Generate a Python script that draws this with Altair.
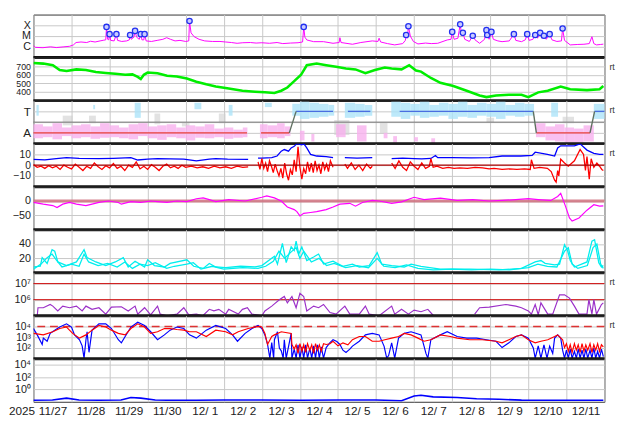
import altair as alt
import pandas as pd

START = pd.Timestamp("2025-11-27")
W, H = 584, 44
FONT = "Liberation Sans"
GRID = "#c8c8c8"

# ---------------- data (day offset from 2025-11-27 00:00, value) ----------------
# Panel 1: GOES X-ray flux, log10(W/m2)
xray = [(0.00,-5.88),(0.05,-6.05),(0.25,-6.08),(0.45,-6.00),(0.60,-6.07),(0.80,-6.00),(0.95,-5.95),(1.05,-5.82),
        (1.12,-5.60),(1.25,-5.55),(1.40,-5.60),(1.50,-5.48),(1.62,-5.55),(1.75,-5.45),(1.85,-5.38),(1.90,-5.35),
        (1.92,-4.15),(1.95,-5.30),(1.98,-5.35),(2.00,-4.82),(2.03,-5.40),(2.12,-5.45),(2.18,-4.82),(2.21,-5.40),
        (2.32,-5.50),(2.45,-5.45),(2.52,-5.35),(2.54,-4.90),(2.57,-5.30),(2.64,-5.10),(2.67,-4.52),(2.71,-5.10),
        (2.78,-5.30),(2.82,-4.82),(2.85,-5.35),(2.90,-5.35),(2.92,-4.82),(2.96,-5.45),(3.10,-5.50),(3.25,-5.40),
        (3.40,-5.30),(3.50,-5.15),(3.60,-5.30),(3.72,-5.45),(3.85,-5.40),(4.00,-5.50),(4.08,-5.45),(4.10,-3.60),
        (4.14,-4.70),(4.22,-5.05),(4.35,-5.30),(4.50,-5.45),(4.70,-5.50),(4.90,-5.50),(5.05,-5.55),(5.20,-5.60),
        (5.35,-5.67),(5.50,-5.62),(5.70,-5.60),(5.85,-5.65),(6.00,-5.62),(6.20,-5.67),(6.40,-5.60),(6.55,-5.70),
        (6.75,-5.65),(6.95,-5.62),(7.07,-5.55),(7.10,-4.15),(7.13,-5.10),(7.18,-5.36),(7.36,-5.52),(7.62,-5.52),
        (7.87,-5.67),(8.03,-5.60),(8.05,-5.15),(8.08,-5.60),(8.38,-5.76),(8.60,-5.60),(8.90,-5.45),(9.05,-5.50),
        (9.08,-5.20),(9.12,-5.55),(9.30,-5.70),(9.49,-5.82),(9.70,-5.70),(9.77,-5.40),(9.79,-4.90),(9.82,-5.20),
        (9.85,-4.09),(9.90,-5.00),(9.98,-5.50),(10.10,-5.73),(10.30,-5.65),(10.45,-5.70),(10.62,-5.67),(10.87,-5.36),
        (10.97,-5.30),(11.00,-4.61),(11.05,-5.30),(11.15,-5.20),(11.21,-3.91),(11.25,-5.00),(11.28,-4.70),(11.33,-5.30),
        (11.45,-5.50),(11.54,-4.97),(11.60,-5.35),(11.72,-5.67),(11.85,-5.30),(11.90,-4.45),(11.92,-4.90),(11.97,-5.30),
        (12.03,-4.61),(12.08,-5.30),(12.20,-5.45),(12.31,-5.52),(12.50,-5.45),(12.62,-4.82),(12.67,-5.40),(12.82,-5.52),
        (12.92,-5.35),(12.97,-4.82),(13.02,-5.40),(13.12,-5.30),(13.18,-4.90),(13.24,-5.20),(13.31,-4.70),(13.36,-5.20),
        (13.41,-4.97),(13.47,-5.30),(13.56,-4.82),(13.62,-5.35),(13.75,-5.50),(13.87,-5.45),(13.90,-4.30),(13.95,-5.40),
        (14.10,-5.82),(14.30,-5.78),(14.46,-5.76),(14.60,-5.70),(14.67,-5.06),(14.72,-5.70),(14.79,-5.82),(14.90,-5.78),
        (14.97,-5.75)]
flares = [(1.92,-4.15),(2.00,-4.82),(2.18,-4.82),(2.54,-4.90),(2.67,-4.52),(2.82,-4.82),(2.92,-4.82),(4.10,-3.60),
          (7.10,-4.15),(9.79,-4.90),(9.85,-4.09),(11.00,-4.61),(11.21,-3.91),(11.28,-4.70),(11.54,-4.97),(11.90,-4.45),
          (11.92,-4.90),(12.03,-4.61),(12.62,-4.82),(12.97,-4.82),(13.18,-4.90),(13.31,-4.70),(13.41,-4.97),(13.56,-4.82),
          (13.90,-4.30)]

# Panel 2: solar wind speed (km/s)
speed = [(0.00,737),(0.26,730),(0.51,711),(0.69,656),(0.87,644),(1.13,663),(1.38,656),(1.64,633),(1.90,622),
         (2.15,611),(2.41,600),(2.60,605),(2.74,575),(2.82,550),(2.90,600),(3.00,626),(3.26,619),(3.51,589),
         (3.77,581),(4.03,556),(4.28,520),(4.54,489),(4.79,465),(5.13,441),(5.49,415),(5.82,404),(6.08,396),
         (6.33,389),(6.51,415),(6.67,452),(6.85,526),(7.03,600),(7.18,711),(7.44,730),(7.69,711),(7.95,693),
         (8.21,674),(8.46,663),(8.72,619),(8.97,656),(9.23,685),(9.41,674),(9.67,663),(9.87,711),(10.05,650),
         (10.18,637),(10.44,563),(10.69,507),(11.03,470),(11.38,415),(11.72,359),(11.90,341),(12.15,359),
         (12.49,367),(12.82,367),(13.00,341),(13.26,396),(13.51,415),(13.85,463),(14.10,433),(14.54,422),
         (14.87,433),(14.97,470)]

# Panel 3: sector polarity (A = 1, T = 3): observed scatter extents (d0, d1, lo, hi)
scatter_away = [(0.00,0.25,0.50,1.80),(0.25,0.50,0.60,1.60),(0.50,0.75,0.40,1.90),(0.75,1.00,0.70,1.50),
                (1.00,1.25,0.50,1.70),(1.25,1.50,0.60,1.80),(1.50,1.75,0.45,1.60),(1.75,2.00,0.55,1.90),
                (2.00,2.25,0.60,1.70),(2.25,2.50,0.50,1.50),(2.50,2.75,0.40,1.80),(2.75,3.00,0.70,1.90),
                (3.00,3.25,0.50,1.60),(3.25,3.50,0.35,1.70),(3.50,3.75,0.60,1.80),(3.75,4.00,0.50,1.50),
                (4.00,4.25,0.30,1.70),(4.25,4.50,0.55,1.60),(4.50,4.75,0.50,1.80),(4.75,5.00,0.60,1.40),
                (5.00,5.25,0.45,1.50),(5.25,5.50,0.55,1.30),(5.50,5.62,0.60,1.50),(5.95,6.15,0.50,1.80),
                (6.15,6.40,0.60,1.70),(6.40,6.60,0.50,1.90),(6.60,6.75,0.70,1.60),(7.00,7.12,0.30,1.20),
                (7.30,7.38,0.20,0.90),(7.95,8.20,0.60,1.80),(8.50,8.75,0.20,1.70),(9.20,9.30,0.50,1.00),
                (9.45,9.55,0.10,0.70),(10.00,10.10,0.20,0.60),(10.45,10.55,0.00,0.50),
                (13.20,13.45,0.60,1.90),(13.45,13.70,0.30,1.60),(13.70,13.95,0.20,1.80),(13.95,14.20,0.10,1.50),
                (14.20,14.45,0.10,1.40),(14.45,14.72,0.20,1.70)]
scatter_toward = [(0.08,0.14,2.60,3.60),(1.57,1.62,3.20,3.60),(2.66,2.82,2.40,3.80),(4.23,4.41,3.20,3.80),
                  (5.13,5.23,2.60,3.60),(6.08,6.26,3.40,3.80),(6.80,7.00,2.60,3.70),(7.00,7.25,2.30,3.90),
                  (7.25,7.50,2.40,3.80),(7.50,7.75,2.50,3.70),(7.75,7.90,2.60,3.60),(8.18,8.45,2.40,3.80),
                  (8.45,8.70,2.50,3.70),(8.70,8.90,2.60,3.60),(9.40,9.65,2.50,3.90),(9.65,9.90,2.30,3.80),
                  (9.90,10.15,2.60,3.70),(10.15,10.40,2.40,3.90),(10.40,10.65,2.50,3.60),(10.65,10.90,2.60,3.80),
                  (10.90,11.15,2.30,3.70),(11.15,11.40,2.50,3.90),(11.40,11.65,2.40,3.60),(11.65,11.90,2.60,3.80),
                  (11.90,12.15,2.50,3.70),(12.15,12.40,2.30,3.90),(12.40,12.65,2.60,3.60),(12.65,12.90,2.50,3.80),
                  (12.90,13.15,2.60,3.70),(13.60,13.78,2.50,3.80),(14.72,15.00,2.30,3.70)]
scatter_other = [(0.77,1.03,1.70,2.60),(1.46,1.64,1.90,2.60),(3.18,3.33,1.80,2.80),(3.90,4.10,1.60,2.00),
                 (4.87,5.05,1.90,2.80),(7.90,8.30,0.80,2.20),(9.10,9.30,0.90,2.00),(11.90,12.10,2.00,2.40),
                 (13.90,14.20,1.90,2.50)]
# model polarity line segments (d0, y0, d1, y1)
model_away = [(0.00,1,5.61,1),(5.98,1,6.72,1),(13.21,1,14.62,1)]
model_toward = [(6.90,3,7.87,3),(8.26,3,8.85,3),(9.62,3,13.13,3),(14.74,3,15.00,3)]
model_switch = [(6.72,1,6.90,3),(13.13,3,13.21,1),(14.62,1,14.74,3)]

# Panel 4: IMF Bt (blue) and Bz (red), nT (None = data gap)
bt = [(0,5.3),(0.3,5.0),(0.6,6.0),(0.87,6.9),(1.2,6.2),(1.72,6.0),(2.1,6.4),(2.56,6.9),(2.74,4.8),(3.0,5.5),
      (3.26,6.0),(3.6,5.8),(3.95,5.5),(4.28,4.0),(4.62,5.5),(4.79,6.0),(5.1,5.6),(5.64,5.4),(5.66,None),
      (5.9,6.5),(6.0,6.6),(6.26,7.0),(6.4,8.5),(6.51,13),(6.59,14.5),(6.7,13),(6.77,16),(6.85,17.5),(6.92,20),
      (7.05,19),(7.10,20),(7.18,16),(7.28,10),(7.44,8.5),(7.69,8),(7.87,6.9),(7.89,None),(8.18,6.9),(8.5,6.5),
      (8.9,6.9),(8.92,None),(9.41,6.0),(9.7,6.5),(10.0,6.0),(10.2,5.8),(10.44,6.2),(10.56,9.0),(10.62,7.0),
      (11.0,7.0),(11.5,6.8),(11.97,7.0),(12.31,8.5),(12.8,8.5),(13.1,9),(13.18,12),(13.5,10),(13.69,8.5),
      (13.77,16),(13.85,18),(14.21,18),(14.36,19.8),(14.54,14),(14.72,11),(14.87,10),(14.97,10)]
bz = [(0.0,0.5),(0.1,-2),(0.2,-1),(0.3,-3),(0.4,-0.5),(0.5,-2.5),(0.6,-1),(0.7,-4),(0.8,0),(0.9,-2),(1.0,-3.5),
      (1.1,1),(1.2,-2),(1.3,-5),(1.4,-1),(1.5,-3),(1.6,2),(1.7,-1.5),(1.8,-4),(1.9,-0.5),(2.0,-2.5),(2.1,1.5),
      (2.2,-3),(2.3,-1),(2.4,-5),(2.5,0),(2.6,-2),(2.7,3),(2.8,-3.5),(2.9,-1),(3.0,-4),(3.1,0.5),(3.2,-2),
      (3.3,-5),(3.4,-1),(3.5,1),(3.6,-2.5),(3.7,-1),(3.8,-3),(3.9,0),(4.0,-2),(4.15,-1),(4.3,-2.5),(4.45,-1.5),
      (4.6,-3),(4.75,-1),(4.9,-2.5),(5.05,-1.5),(5.2,-3),(5.35,-1),(5.5,-2),(5.64,-1.5),(5.66,None),(5.9,3),
      (5.95,-4),(6.0,6),(6.05,-3),(6.1,2),(6.15,-6),(6.2,4),(6.26,-2),(6.3,-7),(6.35,1),(6.4,-5),(6.45,-10),
      (6.5,-3),(6.55,-12),(6.6,2),(6.65,-8),(6.7,-14),(6.75,-4),(6.8,-9),(6.85,5),(6.9,-6),(6.95,17),(7.0,-2),
      (7.05,-13),(7.1,-3),(7.15,-8),(7.2,3),(7.25,-6),(7.3,2),(7.35,-7),(7.4,4),(7.45,-5),(7.5,0),(7.55,-8),
      (7.6,3),(7.65,-4),(7.7,1),(7.75,-6),(7.8,4),(7.87,-2),(7.89,None),(8.18,1),(8.25,-3),(8.35,2),(8.45,-4),
      (8.55,0),(8.65,-5),(8.75,1),(8.85,-3),(8.9,-1),(8.92,None),(9.41,2),(9.5,-3),(9.6,4),(9.7,-2),(9.8,-5),
      (9.9,3),(10.0,-1),(10.1,-4),(10.2,2),(10.3,-3),(10.4,-1),(10.44,6),(10.5,-2),(10.6,-1),(10.75,-3),
      (10.9,-2),(11.05,-3),(11.2,-2.5),(11.4,-3),(11.6,-2),(11.8,-2.5),(11.97,-3.5),(12.1,-3),(12.31,-4),
      (12.5,-3.5),(12.7,-4),(12.9,-3.5),(13.05,-4),(13.08,5),(13.15,-3),(13.3,-2),(13.5,-3),(13.6,-6),
      (13.69,-14),(13.73,-15.8),(13.77,-5),(13.8,-10),(13.85,5.5),(13.95,2),(14.05,-1),(14.21,4),(14.36,14.5),
      (14.45,10),(14.5,-5),(14.54,8),(14.6,-13),(14.65,6),(14.72,-2),(14.8,2),(14.87,-1),(14.93,-4),(14.97,-5)]

# Panel 5: Dst (nT)
dst = [(0.00,-5),(0.26,-11),(0.51,-16),(0.62,-23),(0.77,-11),(0.95,-5),(1.13,-11),(1.38,-16),(1.54,-11),
       (1.72,-5),(1.97,0),(2.23,-5),(2.31,-11),(2.56,-2),(2.82,-5),(3.08,0),(3.26,-2),(3.51,-5),(3.77,0),
       (4.03,-2),(4.28,8),(4.46,11),(4.62,5),(4.79,-2),(5.13,5),(5.56,0),(6.00,13),(6.13,18),(6.33,11),
       (6.51,0),(6.67,-21),(6.85,-30),(6.92,-37),(7.00,-52),(7.10,-43),(7.28,-40),(7.44,-37),(7.69,-30),
       (7.87,-21),(8.05,-11),(8.31,-8),(8.46,-18),(8.64,-5),(8.90,2),(9.08,0),(9.41,-8),(9.67,-3),(10.00,13),
       (10.26,5),(10.69,10),(11.13,2),(11.54,5),(11.97,0),(12.31,2),(12.67,5),(13.00,8),(13.26,5),(13.59,2),
       (13.77,16),(13.85,27),(13.97,-16),(14.08,-59),(14.15,-70),(14.33,-59),(14.54,-32),(14.72,-13),
       (14.87,-18),(14.97,-17)]

# Panel 6: two cyan index traces
cyan_a = [(0.00,8),(0.18,9),(0.23,21),(0.36,13),(0.49,32),(0.56,30),(0.64,15),(0.87,10),(1.13,15),(1.33,32),
          (1.41,21),(1.64,15),(1.90,10),(2.15,15),(2.36,21),(2.49,8),(2.67,16),(2.92,8),(3.00,18),(3.18,10),
          (3.44,8),(3.59,13),(4.03,18),(4.21,9),(4.46,6),(4.62,13),(4.79,8),(5.05,7),(5.44,9),(5.82,8),(6.00,10),
          (6.33,23),(6.41,12),(6.54,41),(6.64,14),(6.77,36),(6.85,31),(6.90,44),(6.97,26),(7.05,36),(7.18,17),
          (7.36,22),(7.49,26),(7.62,12),(7.87,16),(8.13,9),(8.38,12),(8.56,8),(8.82,10),(9.03,28),(9.15,12),
          (9.41,10),(9.74,8),(9.92,12),(10.18,9),(10.69,5),(11.46,5),(12.23,4),(12.82,6),(13.18,15),(13.33,17),
          (13.44,13),(13.69,11),(13.82,12),(13.95,39),(14.03,31),(14.10,17),(14.21,8),(14.54,15),(14.67,44),
          (14.74,46),(14.85,14),(14.92,8),(14.97,10)]
cyan_b = [(0.00,5),(0.20,12),(0.36,21),(0.49,26),(0.60,18),(0.75,8),(1.00,12),(1.20,9),(1.33,26),(1.45,15),
          (1.70,10),(1.95,13),(2.20,8),(2.40,15),(2.60,6),(2.80,12),(3.00,10),(3.20,14),(3.50,6),(3.70,9),
          (4.03,12),(4.20,14),(4.40,5),(4.70,9),(5.00,5),(5.50,7),(5.90,6),(6.10,9),(6.30,16),(6.45,30),(6.60,20),
          (6.75,28),(6.90,35),(7.00,20),(7.10,30),(7.30,15),(7.50,20),(7.70,10),(7.90,13),(8.20,7),(8.50,10),
          (8.80,7),(9.03,20),(9.20,9),(9.50,7),(9.80,11),(10.10,6),(10.50,4),(11.00,5),(11.50,4),(12.00,5),
          (12.50,4),(13.00,7),(13.25,12),(13.50,9),(13.75,8),(13.95,30),(14.05,35),(14.15,12),(14.30,6),
          (14.55,10),(14.70,35),(14.80,40),(14.90,12),(14.97,6)]

# Panel 7: electron flux, log10
electron = [(0.10,5.0),(0.12,5.5),(0.26,5.5),(0.44,5.7),(0.51,5.6),(0.64,5.3),(0.77,5.6),(0.95,5.5),(1.13,5.6),
            (1.28,5.3),(1.38,5.6),(1.54,5.4),(1.72,5.5),(1.90,5.1),(2.05,5.54),(2.31,5.56),(2.49,5.3),(2.67,5.6),
            (2.74,5.1),(2.92,5.5),(3.08,5.06),(3.26,5.6),(3.33,5.1),(3.51,5.0),(3.77,5.1),(3.95,5.5),(4.08,5.06),
            (4.28,5.1),(4.45,5.0),(4.62,5.4),(4.74,5.3),(4.87,5.4),(5.05,5.1),(5.13,5.4),(5.38,5.1),(5.49,5.4),
            (5.62,5.5),(5.74,5.1),(6.00,5.0),(6.08,5.3),(6.26,5.6),(6.33,5.74),(6.46,6.0),(6.59,6.2),(6.67,5.8),
            (6.79,6.2),(6.90,5.5),(7.00,6.4),(7.10,6.2),(7.18,5.3),(7.36,5.6),(7.49,5.5),(7.62,5.7),(7.79,5.2),
            (7.95,5.1),(8.18,5.6),(8.31,5.1),(8.56,5.1),(8.72,5.6),(8.82,5.1),(9.08,5.0),(9.41,5.6),(9.49,5.1),
            (9.67,5.4),(9.85,5.1),(10.00,5.35),(10.18,5.25),(10.36,5.4),(10.51,5.0),(10.53,None),(11.59,5.1),
            (11.72,5.5),(11.97,5.54),(12.41,5.7),(12.67,5.6),(12.82,5.5),(13.00,5.3),(13.08,5.1),(13.18,5.7),
            (13.26,5.06),(13.33,5.8),(13.51,5.1),(13.64,5.1),(13.82,6.3),(13.95,6.3),(14.08,6.1),(14.21,5.6),
            (14.33,5.1),(14.54,5.1),(14.59,6.0),(14.67,5.1),(14.72,6.0),(14.79,5.1),(14.92,5.7),(14.97,5.8)]

# Panel 8: two particle flux channels, log10
flux_blue = [(0.00,3.81),(0.10,3.22),(0.23,2.33),(0.26,2.92),(0.36,2.63),(0.44,3.36),(0.56,3.66),(0.69,3.95),
             (0.87,4.25),(1.00,3.95),(1.08,3.22),(1.21,2.77),(1.28,2.20),(1.33,1.06),(1.38,2.77),(1.41,3.51),
             (1.46,1.60),(1.54,3.66),(1.72,4.25),(1.90,4.25),(2.05,3.81),(2.23,2.77),(2.31,2.48),(2.41,3.07),
             (2.56,3.95),(2.74,4.40),(2.92,4.10),(3.08,3.51),(3.26,2.77),(3.44,3.22),(3.59,3.66),(3.77,3.95),
             (3.95,3.81),(4.10,3.22),(4.28,2.92),(4.54,3.66),(4.79,4.10),(5.05,3.81),(5.23,3.22),(5.36,2.63),
             (5.56,3.36),(5.74,3.81),(5.90,4.10),(6.00,3.81),(6.08,3.22),(6.15,2.33),(6.21,1.06),(6.26,2.50),
             (6.31,1.06),(6.33,2.77),(6.41,3.51),(6.46,2.00),(6.51,1.74),(6.56,1.06),(6.59,2.77),(6.64,1.06),
             (6.77,3.36),(6.79,1.06),(6.85,1.90),(6.90,1.06),(6.95,2.30),(7.00,1.06),(7.05,2.10),(7.10,1.06),
             (7.15,2.30),(7.20,1.06),(7.26,2.00),(7.31,1.06),(7.36,2.20),(7.41,1.06),(7.46,2.30),(7.51,1.06),
             (7.56,2.10),(7.62,1.06),(7.69,2.04),(7.79,2.50),(7.87,2.77),(7.97,2.60),(8.05,2.33),(8.13,1.80),
             (8.21,1.59),(8.31,1.90),(8.38,2.18),(8.56,2.63),(8.72,3.22),(8.90,3.36),(9.08,3.22),(9.21,2.18),
             (9.28,1.06),(9.33,1.30),(9.41,2.48),(9.49,1.06),(9.59,2.92),(9.74,3.36),(9.92,3.51),(10.18,3.22),
             (10.26,2.18),(10.31,1.50),(10.36,1.06),(10.44,2.77),(10.69,3.22),(10.87,3.51),(11.13,3.07),
             (11.38,2.92),(11.64,2.92),(11.90,2.77),(12.15,2.63),(12.31,2.04),(12.49,2.48),(12.67,3.07),
             (12.82,3.22),(13.00,2.92),(13.13,2.00),(13.18,1.06),(13.26,2.20),(13.33,1.06),(13.41,2.30),
             (13.49,1.06),(13.56,2.18),(13.64,1.50),(13.69,2.92),(13.77,3.22),(13.85,2.92),(13.90,1.80),
             (13.95,1.06),(14.00,1.80),(14.05,1.06),(14.10,1.90),(14.15,1.06),(14.21,1.70),(14.26,1.06),
             (14.31,1.90),(14.36,1.06),(14.41,1.80),(14.46,1.06),(14.51,1.90),(14.56,1.06),(14.62,1.80),
             (14.67,1.06),(14.72,2.00),(14.77,1.06),(14.82,1.70),(14.87,1.06),(14.92,1.90),(14.97,1.20)]
flux_red = [(0.00,3.36),(0.26,3.22),(0.51,3.51),(0.69,3.81),(0.87,3.95),(1.03,3.36),(1.21,2.92),(1.38,3.22),
            (1.54,3.66),(1.72,4.10),(1.90,3.95),(2.05,3.66),(2.23,3.36),(2.41,3.22),(2.56,3.81),(2.74,4.25),
            (2.92,3.95),(3.08,3.36),(3.26,3.51),(3.44,3.81),(3.59,3.81),(3.77,3.72),(3.95,3.66),(4.10,3.51),
            (4.28,3.51),(4.54,3.07),(4.79,3.66),(5.05,3.51),(5.23,3.22),(5.38,3.51),(5.64,3.81),(5.90,4.01),
            (6.00,3.95),(6.08,3.36),(6.15,2.33),(6.26,3.07),(6.33,3.22),(6.51,3.51),(6.77,3.36),(6.79,2.33),
            (6.85,1.90),(6.90,2.30),(6.95,1.50),(7.00,2.40),(7.05,1.70),(7.10,2.30),(7.15,1.60),(7.20,2.40),
            (7.26,1.80),(7.31,2.30),(7.36,1.50),(7.41,2.40),(7.46,1.80),(7.51,2.30),(7.56,1.70),(7.62,2.40),
            (7.69,2.33),(7.79,2.40),(7.87,2.63),(8.00,2.20),(8.13,2.48),(8.26,2.30),(8.38,2.77),(8.56,3.07),
            (8.72,3.07),(8.90,2.63),(9.08,2.63),(9.23,2.77),(9.41,2.92),(9.59,3.07),(9.74,3.36),(9.92,3.22),
            (10.10,2.92),(10.26,2.63),(10.44,2.77),(10.69,3.22),(10.95,3.07),(11.13,2.92),(11.46,2.77),
            (11.79,2.77),(12.15,2.63),(12.31,2.48),(12.49,2.77),(12.67,3.07),(12.82,3.22),(13.00,2.77),
            (13.18,2.48),(13.33,2.63),(13.51,2.77),(13.69,3.07),(13.77,3.22),(13.90,2.77),(13.95,2.04),
            (14.00,2.40),(14.05,1.70),(14.10,2.30),(14.15,1.60),(14.21,2.40),(14.26,1.80),(14.31,2.30),
            (14.36,1.60),(14.41,2.40),(14.46,1.70),(14.51,2.30),(14.56,1.80),(14.62,2.40),(14.67,1.60),
            (14.72,2.30),(14.77,1.80),(14.82,2.40),(14.87,1.70),(14.92,2.30),(14.97,2.10)]

# Panel 9: proton flux, log10
proton = [(0.00,-1.75),(0.50,-1.70),(0.87,-1.40),(1.20,-1.70),(1.72,-1.75),(2.30,-1.70),(2.56,-1.30),
          (2.82,-1.40),(3.20,-1.70),(3.51,-1.75),(4.28,-1.75),(5.00,-1.70),(6.00,-1.70),(7.00,-1.75),
          (8.00,-1.70),(9.00,-1.70),(9.67,-1.84),(10.00,-1.05),(10.18,-0.93),(10.50,-1.20),(11.13,-1.30),
          (11.64,-1.50),(12.23,-1.60),(12.82,-1.73),(13.69,-1.75),(14.97,-1.75)]

# ---------------- helpers ----------------
def to_time(d):
    return START + pd.to_timedelta(pd.Series(d, dtype=float), unit="D")

def series(pairs):
    df = pd.DataFrame(pairs, columns=["d", "y"])
    df["y"] = df["y"].astype(float)
    df["seg"] = df["y"].isna().cumsum()
    df = df.dropna().reset_index(drop=True)
    df["t"] = to_time(df["d"])
    return df[["t", "y", "seg"]]

def boxes(rows):
    df = pd.DataFrame(rows, columns=["d0", "d1", "y", "y2"])
    df["t"] = to_time(df["d0"])
    df["t2"] = to_time(df["d1"])
    return df[["t", "t2", "y", "y2"]]

def segs(rows):
    df = pd.DataFrame(rows, columns=["d0", "y", "d1", "y2"])
    df["t"] = to_time(df["d0"])
    df["t2"] = to_time(df["d1"])
    return df[["t", "t2", "y", "y2"]]

ONE = pd.DataFrame({"a": [0]})

TICKS = ([alt.DateTime(year=2025, month=11, date=d) for d in (27, 28, 29, 30)] +
         [alt.DateTime(year=2025, month=12, date=d) for d in range(1, 13)])
XSCALE = alt.Scale(domain=[alt.DateTime(year=2025, month=11, date=27),
                           alt.DateTime(year=2025, month=12, date=12)])
AX_HIDDEN = alt.Axis(values=TICKS, grid=True, gridColor=GRID, labels=False, ticks=False,
                     domain=False, title=None)
AX_BOTTOM = alt.Axis(values=TICKS, grid=True, gridColor=GRID, ticks=False, domain=False, title=None,
                     labelExpr="(month(datum.value)==11 && date(datum.value)==12) ? '' : timeFormat(datum.value, '%-m/%e')",
                     labelOffset=19.5, labelFlush=False, labelOverlap=False, labelFontSize=12,
                     labelPadding=4, labelColor="#222", labelFont=FONT)
X_HID = alt.X("t:T", scale=XSCALE, axis=AX_HIDDEN)
X_BOT = alt.X("t:T", scale=XSCALE, axis=AX_BOTTOM)

def Y(domain, values, label_expr=None, size=11):
    ax = dict(values=values, grid=True, gridColor=GRID, ticks=False, domain=False, title=None,
              labelFontSize=size, labelPadding=3, labelColor="#222", labelFont=FONT,
              labelOverlap=False, labelFlush=False)
    if label_expr:
        ax["labelExpr"] = label_expr
    return alt.Y("y:Q", scale=alt.Scale(domain=domain, nice=False, zero=False), axis=alt.Axis(**ax))

SUP = ("datum.value==0?'10⁰':datum.value==2?'10²':datum.value==3?'10³':datum.value==4?'10⁴':"
       "datum.value==6?'10⁶':datum.value==7?'10⁷':''")

def line(df, X, Yenc, color, width=1.0, **kw):
    return alt.Chart(df).mark_line(color=color, strokeWidth=width, clip=True, **kw).encode(
        x=X, y=Yenc, detail="seg:N")

def hrule(val, Yenc, color, width=1.0, **kw):
    return alt.Chart(pd.DataFrame({"y": [val]})).mark_rule(color=color, strokeWidth=width, **kw).encode(y=Yenc)

def rt_text():
    return alt.Chart(ONE).mark_text(text="rt", align="left", baseline="middle", fontSize=9,
                                    font=FONT, color="#333").encode(x=alt.value(W + 5), y=alt.value(10))

def separator():
    return alt.Chart(ONE).mark_rule(color="#111", strokeWidth=3).encode(
        x=alt.value(0), x2=alt.value(W), y=alt.value(H))

def panel(layers, rt=False, sep=True):
    extra = []
    if rt:
        extra.append(rt_text())
    if sep:
        extra.append(separator())
    return alt.layer(*layers, *extra).properties(width=W, height=H)

# ---------------- panels ----------------
Y1 = Y([-7, -3], [-6, -5, -4], "datum.value==-4?'X':datum.value==-5?'M':'C'", size=11)
fl = series(flares)
p1 = panel([
    line(series(xray), X_HID, Y1, "#ff00ff", 1.0),
    alt.Chart(fl).mark_point(shape="circle", size=30, filled=True, fill="#c9ccff", stroke="#2230f0",
                             strokeWidth=1.3, opacity=1).encode(x=X_HID, y=Y1),
])

Y2 = Y([300, 800], [400, 500, 600, 700], size=9)
p2 = panel([line(series(speed), X_HID, Y2, "#00ee00", 2.6)], rt=True)

Y3 = Y([0, 4], [1, 2, 3], "datum.value==3?'T':datum.value==1?'A':''", size=12)
def box_layer(rows, color, op):
    return alt.Chart(boxes(rows)).mark_rect(color=color, opacity=op).encode(
        x=X_HID, x2="t2:T", y=Y3, y2="y2:Q")
def seg_layer(rows, color, width=1.4):
    return alt.Chart(segs(rows)).mark_rule(color=color, strokeWidth=width).encode(
        x=X_HID, x2="t2:T", y=Y3, y2="y2:Q")
p3 = panel([
    box_layer(scatter_other, "#cfcfcf", 0.6),
    box_layer(scatter_away, "#f7b0ee", 0.8),
    box_layer(scatter_toward, "#ade4f9", 0.8),
    hrule(2, Y3, "#777777", 1.0),
    seg_layer(model_away, "#e8403a"),
    seg_layer(model_toward, "#4a6ee0"),
    seg_layer(model_switch, "#5f7060"),
], rt=True)

Y4 = Y([-20, 20], [-10, 0, 10], size=10.5)
p4 = panel([
    line(series(bt), X_HID, Y4, "#0000ff", 1.3),
    line(series(bz), X_HID, Y4, "#ff0000", 1.3),
    hrule(0, Y4, "#aa0000", 1.3),
], rt=True)

Y5 = Y([-100, 50], [-50, 0])
p5 = panel([
    hrule(0, Y5, "#cf6f7c", 3.0, opacity=0.85),
    line(series(dst), X_HID, Y5, "#ff00ff", 1.2),
])

Y6 = Y([0, 60], [20, 40])
p6 = panel([
    line(series(cyan_b), X_HID, Y6, "#00eeee", 1.3),
    line(series(cyan_a), X_HID, Y6, "#00eeee", 1.3),
])

Y7 = Y([5, 7.68], [6, 7], SUP)
p7 = panel([
    hrule(7, Y7, "#cc0000", 1.0),
    hrule(6, Y7, "#cc0000", 1.0),
    line(series(electron), X_HID, Y7, "#9b30c8", 1.2),
], rt=True)

Y8 = Y([1, 5], [2, 3, 4], SUP, size=10.5)
p8 = panel([
    hrule(4, Y8, "#dd3333", 1.3, strokeDash=[8, 5]),
    line(series(flux_blue), X_HID, Y8, "#0000ff", 1.2),
    line(series(flux_red), X_HID, Y8, "#ff0000", 1.2),
], rt=True)

Y9 = Y([-2, 5], [0, 2, 4], SUP)
p9 = panel([
    line(series(proton), X_BOT, Y9, "#0000ff", 1.6),
    alt.Chart(ONE).mark_text(text="2025", align="left", baseline="top", fontSize=12, font=FONT,
                             color="#222").encode(x=alt.value(-25), y=alt.value(H + 4)),
], sep=False)

chart = alt.vconcat(p1, p2, p3, p4, p5, p6, p7, p8, p9, spacing=0, bounds="flush").properties(
    padding={"top": 1, "left": 0, "right": 2, "bottom": 2}
).configure_view(stroke="#333", strokeWidth=1)

chart.save("out.html", embed_options={"renderer": "svg", "actions": False})
